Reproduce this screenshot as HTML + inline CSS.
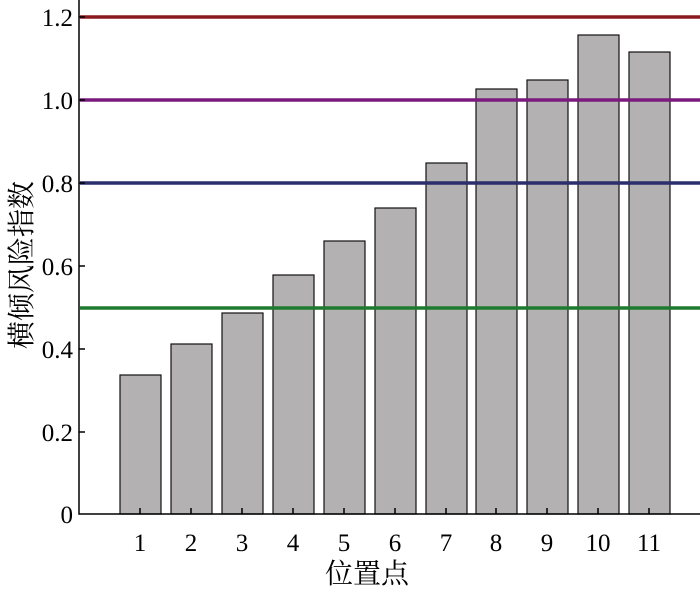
<!DOCTYPE html>
<html><head><meta charset="utf-8"><style>body{margin:0;background:#fff}</style></head><body>
<svg width="700" height="588" xmlns="http://www.w3.org/2000/svg" font-family="Liberation Serif, Noto Serif CJK SC, serif">
<g fill="#b3b1b2" stroke="#111" stroke-width="1.2">
<rect x="120" y="375" width="41" height="139"/>
<rect x="171" y="344" width="41" height="170"/>
<rect x="222" y="313" width="41" height="201"/>
<rect x="273" y="275" width="41" height="239"/>
<rect x="324" y="241" width="41" height="273"/>
<rect x="375" y="208" width="41" height="306"/>
<rect x="426" y="163" width="41" height="351"/>
<rect x="476" y="89" width="41" height="425"/>
<rect x="527" y="80" width="41" height="434"/>
<rect x="578" y="35" width="41" height="479"/>
<rect x="629" y="52" width="41" height="462"/>
</g>
<g stroke-width="3.5">
<line x1="80" x2="700" y1="17" y2="17" stroke="#8b1a1f"/>
<line x1="80" x2="700" y1="100" y2="100" stroke="#7a1a7e"/>
<line x1="80" x2="700" y1="183" y2="183" stroke="#2b2f6c"/>
<line x1="80" x2="700" y1="308" y2="308" stroke="#1d7a2e"/>
</g>
<g stroke="#000" stroke-width="1.5" fill="none">
<polyline points="79,0 79,514 700,514"/>
<path d="M140,514v-6M191,514v-6M242,514v-6M293,514v-6M344,514v-6M395,514v-6M446,514v-6M496,514v-6M547,514v-6M598,514v-6M649,514v-6"/>
<path d="M79,432h6M79,349h6M79,266h6M79,183h6M79,100h6M79,17h6"/>
</g>
<g font-size="25" text-anchor="end" fill="#000">
<text x="73" y="523">0</text><text x="73" y="441">0.2</text><text x="73" y="358">0.4</text><text x="73" y="275">0.6</text><text x="73" y="192">0.8</text><text x="73" y="109">1.0</text><text x="73" y="26">1.2</text>
</g>
<g font-size="25" text-anchor="middle" fill="#000">
<text x="140" y="551">1</text><text x="191" y="551">2</text><text x="242" y="551">3</text><text x="293" y="551">4</text><text x="344" y="551">5</text><text x="395" y="551">6</text><text x="446" y="551">7</text><text x="496" y="551">8</text><text x="547" y="551">9</text><text x="598" y="551">10</text><text x="649" y="551">11</text>
<text x="367" y="583" font-size="28">位置点</text>
<text transform="translate(31,265) rotate(-90)" font-size="28">横倾风险指数</text>
</g>
</svg>
</body></html>
